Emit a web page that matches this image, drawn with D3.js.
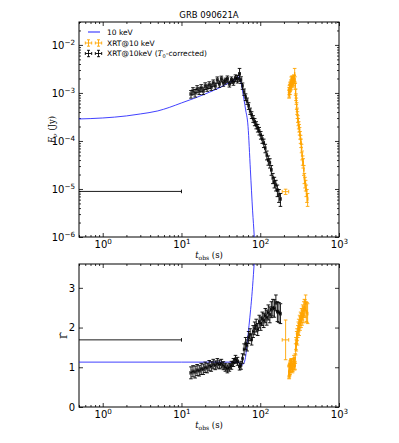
<!DOCTYPE html>
<html>
<head>
<meta charset="utf-8">
<script src="https://cdnjs.cloudflare.com/ajax/libs/d3/7.8.5/d3.min.js"></script>
<style>
  body { margin: 0; background: #fff; }
  text { font-family: "DejaVu Sans", sans-serif; }
  .serif { font-family: "DejaVu Serif", serif; }
</style>
</head>
<body>
<svg id="chart" width="399" height="443"></svg>
<script>
// XRT light curve at 10 keV, T0-corrected times (s)
const tCorr = [13.2, 14.0, 14.9, 15.8, 16.8, 17.8, 18.9, 20.0, 21.2, 22.5, 23.9, 25.3, 26.9, 28.5, 30.3, 32.1,
  34.0, 36.1, 38.3, 40.6, 43.1, 45.7, 48.5, 51.5, 54.6, 57.1, 59.6, 62.4, 65.2, 68.1, 71.2, 74.4, 77.8, 81.3,
  85.0, 88.9, 92.9, 97.1, 101.5, 106.1, 110.9, 115.9, 121.2, 126.6, 132.4, 138.4, 144.6, 151.2, 158.0, 165.2,
  172.7, 180.5];
const tHalf = [0.4, 0.4, 0.45, 0.45, 0.5, 0.5, 0.55, 0.55, 0.6, 0.65, 0.65, 0.7, 0.75, 0.8, 0.85, 0.9, 0.95,
  1.0, 1.1, 1.2, 1.2, 1.3, 1.4, 1.5, 1.5, 1.2, 1.3, 1.4, 1.4, 1.5, 1.6, 1.6, 1.7, 1.8, 1.9, 2.0, 2.1, 2.2, 2.3,
  2.4, 2.5, 2.6, 2.8, 3.0, 3.1, 3.3, 3.5, 3.6, 3.8, 4.0, 4.0, 4.2];
const flux = [9.5e-4, 1.10e-3, 1.0e-3, 1.21e-3, 1.10e-3, 1.27e-3, 1.10e-3, 1.40e-3, 1.27e-3, 1.47e-3, 1.33e-3,
  1.62e-3, 1.40e-3, 1.87e-3, 1.54e-3, 1.96e-3, 1.62e-3, 1.78e-3, 1.96e-3, 1.54e-3, 1.87e-3, 1.70e-3, 2.05e-3,
  1.96e-3, 2.49e-3, 1.87e-3, 1.40e-3, 1.05e-3, 8.25e-4, 6.8e-4, 5.4e-4, 4.2e-4, 3.5e-4, 2.9e-4, 2.5e-4, 2.15e-4,
  1.87e-4, 1.62e-4, 1.33e-4, 1.10e-4, 9.1e-5, 7.1e-5, 5.1e-5, 4.0e-5, 3.5e-5, 2.5e-5, 1.7e-5, 1.4e-5, 1.21e-5,
  9.5e-6, 7.5e-6, 6.2e-6];
const fluxRelErr = [0.18, 0.17, 0.18, 0.17, 0.16, 0.17, 0.16, 0.16, 0.15, 0.16, 0.15, 0.15, 0.15, 0.15, 0.15,
  0.14, 0.15, 0.14, 0.15, 0.14, 0.15, 0.15, 0.16, 0.18, 0.3, 0.16, 0.15, 0.15, 0.16, 0.15, 0.16, 0.15, 0.16, 0.16,
  0.17, 0.17, 0.18, 0.18, 0.18, 0.19, 0.2, 0.2, 0.21, 0.22, 0.22, 0.23, 0.24, 0.25, 0.25, 0.27, 0.3, 0.3];
const gamma = [0.86, 0.90, 0.88, 0.93, 0.91, 0.96, 0.95, 1.00, 0.98, 1.04, 1.02, 1.08, 1.05, 1.10, 1.07, 1.09,
  1.04, 1.00, 0.96, 1.00, 1.05, 1.12, 1.20, 1.15, 1.02, 1.05, 1.22, 1.45, 1.60, 1.55, 1.75, 1.82, 1.70, 1.90,
  1.98, 2.05, 1.95, 2.15, 2.10, 2.22, 2.18, 2.30, 2.25, 2.38, 2.32, 2.45, 2.50, 2.48, 2.62, 2.40, 2.38, 2.35];
const gammaErr = [0.15, 0.14, 0.15, 0.14, 0.13, 0.14, 0.13, 0.13, 0.12, 0.13, 0.12, 0.12, 0.11, 0.12, 0.11, 0.11,
  0.1, 0.1, 0.1, 0.1, 0.1, 0.1, 0.1, 0.1, 0.09, 0.1, 0.12, 0.14, 0.15, 0.14, 0.15, 0.15, 0.14, 0.15, 0.16, 0.16,
  0.15, 0.16, 0.17, 0.17, 0.18, 0.18, 0.19, 0.19, 0.2, 0.2, 0.21, 0.22, 0.2, 0.25, 0.25, 0.25];
const T0 = 219; // offset between observed and corrected time

// averaged early point (black) and its observed-time counterpart (orange)
const avgCorr = { t: 5, dt: 5, f: 8.9e-6, df: 0, g: 1.69, dg: 0 };
const avgObs = { t: 210, dt: 20, f: 8.8e-6, df: 1.1e-6, g: 1.69, dg: 0.5 };

// 10 keV model curve
const modelT = [0.5, 1, 2, 3, 5, 7, 10, 15, 20, 30, 40, 50, 53, 56, 60, 65, 70, 75, 80, 84, 88];
const modelFlux = [2.87e-4, 3.01e-4, 3.32e-4, 3.65e-4, 4.22e-4, 4.99e-4, 6.19e-4, 7.87e-4, 9.53e-4, 1.27e-3,
  1.62e-3, 2.0e-3, 2.15e-3, 1.87e-3, 1.05e-3, 4.6e-4, 2.0e-4, 2.5e-5, 3.5e-6, 1.0e-6, 2e-7];
const modelGT = [0.5, 10, 30, 50, 55, 59, 62, 65, 69, 72, 75.5, 79, 83, 86];
const modelGamma = [1.13, 1.13, 1.13, 1.13, 1.11, 1.06, 1.10, 1.25, 1.70, 2.05, 2.45, 2.9, 3.5, 4.0];

// ticks
const xTicks = [1, 10, 100, 1000];
const fluxTicks = [1e-6, 1e-5, 1e-4, 1e-3, 1e-2];
const gammaTicks = [0, 1, 2, 3];

var svg = d3.select("#chart");
var L = 79, R = 339;
var p1 = { top: 22, bottom: 237 }, p2 = { top: 264, bottom: 407 };

var x = d3.scaleLog().domain([0.5, 1000]).range([L, R]);
var yF = d3.scaleLog().domain([1e-6, 0.03]).range([p1.bottom, p1.top]);
var yG = d3.scaleLinear().domain([0, 3.6]).range([p2.bottom, p2.top]);

var xMinor = [];
[0.1, 1, 10, 100].forEach(function(b) {
  for (var k = 2; k <= 9; k++) if (b * k >= 0.5 && b * k <= 1000) xMinor.push(b * k);
});
var fMinor = [];
[1e-6, 1e-5, 1e-4, 1e-3, 1e-2].forEach(function(b) {
  for (var k = 2; k <= 9; k++) if (b * k <= 0.03) fMinor.push(b * k);
});

var defs = svg.append("defs");
defs.append("clipPath").attr("id", "clip1").append("rect")
  .attr("x", L).attr("y", p1.top).attr("width", R - L).attr("height", p1.bottom - p1.top);
defs.append("clipPath").attr("id", "clip2").append("rect")
  .attr("x", L).attr("y", p2.top).attr("width", R - L).attr("height", p2.bottom - p2.top);

function sup(sel) {
  sel.text(null);
  sel.append("tspan").text("10");
  sel.append("tspan").attr("dy", "-0.55em").attr("font-size", "0.72em")
    .text(function(d) { var e = Math.round(Math.log10(d)); return e < 0 ? "\u2212" + (-e) : e; });
}

function axes(ys, p, yTicks, yMinor, logY) {
  var g = svg.append("g").attr("font-size", 7);
  var bottom = g.append("g").attr("transform", "translate(0," + p.bottom + ")")
    .call(d3.axisBottom(x).tickValues(xTicks).tickSize(-4).tickPadding(4));
  bottom.selectAll(".tick text").call(sup);
  g.append("g").attr("transform", "translate(0," + p.bottom + ")")
    .call(d3.axisBottom(x).tickValues(xMinor).tickSize(-2).tickFormat(""));
  g.append("g").attr("transform", "translate(0," + p.top + ")")
    .call(d3.axisTop(x).tickValues(xTicks).tickSize(-4).tickFormat(""));
  g.append("g").attr("transform", "translate(0," + p.top + ")")
    .call(d3.axisTop(x).tickValues(xMinor).tickSize(-2).tickFormat(""));

  var yAxis = d3.axisLeft(ys).tickValues(yTicks).tickSize(-4).tickPadding(4);
  if (!logY) yAxis.tickFormat(d3.format("d"));
  var left = g.append("g").attr("transform", "translate(" + L + ",0)").call(yAxis);
  if (logY) left.selectAll(".tick text").call(sup);
  g.append("g").attr("transform", "translate(" + R + ",0)")
    .call(d3.axisRight(ys).tickValues(yTicks).tickSize(-4).tickFormat(""));
  if (yMinor.length) {
    g.append("g").attr("transform", "translate(" + L + ",0)")
      .call(d3.axisLeft(ys).tickValues(yMinor).tickSize(-2).tickFormat(""));
    g.append("g").attr("transform", "translate(" + R + ",0)")
      .call(d3.axisRight(ys).tickValues(yMinor).tickSize(-2).tickFormat(""));
  }
  g.selectAll(".domain").remove();
  g.selectAll(".tick line").attr("stroke", "#000").attr("stroke-width", 0.8);
  g.selectAll(".tick text").attr("fill", "#000").attr("font-family", "DejaVu Sans");

  svg.append("rect").attr("x", L).attr("y", p.top).attr("width", R - L).attr("height", p.bottom - p.top)
    .attr("fill", "none").attr("stroke", "#000").attr("stroke-width", 1);
}

function errorbars(g, data, ys, color) {
  var cap = 1.8;
  var eb = g.selectAll(null).data(data).enter().append("g")
    .attr("stroke", color).attr("stroke-width", 0.9);
  eb.append("line")
    .attr("x1", function(d) { return x(d.xlo); }).attr("x2", function(d) { return x(d.xhi); })
    .attr("y1", function(d) { return ys(d.y); }).attr("y2", function(d) { return ys(d.y); });
  var withY = eb.filter(function(d) { return d.yhi > d.ylo; });
  withY.append("line")
    .attr("x1", function(d) { return x(d.x); }).attr("x2", function(d) { return x(d.x); })
    .attr("y1", function(d) { return ys(d.ylo); }).attr("y2", function(d) { return ys(d.yhi); });
  ["ylo", "yhi"].forEach(function(k) {
    withY.append("line")
      .attr("x1", function(d) { return x(d.x) - cap; }).attr("x2", function(d) { return x(d.x) + cap; })
      .attr("y1", function(d) { return ys(d[k]); }).attr("y2", function(d) { return ys(d[k]); });
  });
  ["xlo", "xhi"].forEach(function(k) {
    eb.append("line")
      .attr("x1", function(d) { return x(d[k]); }).attr("x2", function(d) { return x(d[k]); })
      .attr("y1", function(d) { return ys(d.y) - cap; }).attr("y2", function(d) { return ys(d.y) + cap; });
  });
}

function pts(offset, yv, lo, hi, avg, avgY, avgErr) {
  var out = tCorr.map(function(t, i) {
    return { x: t + offset, xlo: t + offset - tHalf[i], xhi: t + offset + tHalf[i],
      y: yv[i], ylo: lo(i), yhi: hi(i) };
  });
  out.push({ x: avg.t, xlo: Math.max(avg.t - avg.dt, 0.05), xhi: avg.t + avg.dt,
    y: avg[avgY], ylo: avg[avgY] - avg[avgErr], yhi: avg[avgY] + avg[avgErr] });
  return out;
}

var line = d3.line().curve(d3.curveMonotoneX);

// ---- top panel: flux ----
axes(yF, p1, fluxTicks, fMinor, true);
var g1 = svg.append("g").attr("clip-path", "url(#clip1)");
g1.append("path")
  .attr("d", line(modelT.map(function(t, i) { return [x(t), yF(modelFlux[i])]; })))
  .attr("fill", "none").attr("stroke", "#2020ff").attr("stroke-opacity", 0.85).attr("stroke-width", 1);
errorbars(g1, pts(T0, flux,
  function(i) { return flux[i] * (1 - fluxRelErr[i]); },
  function(i) { return flux[i] * (1 + fluxRelErr[i]); }, avgObs, "f", "df"), yF, "orange");
errorbars(g1, pts(0, flux,
  function(i) { return flux[i] * (1 - fluxRelErr[i]); },
  function(i) { return flux[i] * (1 + fluxRelErr[i]); }, avgCorr, "f", "df"), yF, "#000");

// ---- bottom panel: photon index ----
axes(yG, p2, gammaTicks, [], false);
var g2 = svg.append("g").attr("clip-path", "url(#clip2)");
g2.append("path")
  .attr("d", line(modelGT.map(function(t, i) { return [x(t), yG(modelGamma[i])]; })))
  .attr("fill", "none").attr("stroke", "#2020ff").attr("stroke-opacity", 0.85).attr("stroke-width", 1);
errorbars(g2, pts(T0, gamma,
  function(i) { return gamma[i] - gammaErr[i]; },
  function(i) { return gamma[i] + gammaErr[i]; }, avgObs, "g", "dg"), yG, "orange");
errorbars(g2, pts(0, gamma,
  function(i) { return gamma[i] - gammaErr[i]; },
  function(i) { return gamma[i] + gammaErr[i]; }, avgCorr, "g", "dg"), yG, "#000");

// ---- labels ----
svg.append("text").attr("x", (L + R) / 2).attr("y", 18).attr("text-anchor", "middle")
  .attr("font-size", 8.5).text("GRB 090621A");

[p1.bottom + 21, p2.bottom + 21].forEach(function(yy) {
  var t = svg.append("text").attr("class", "serif").attr("x", (L + R) / 2).attr("y", yy)
    .attr("text-anchor", "middle").attr("font-size", 8.5);
  t.append("tspan").attr("font-style", "italic").text("t");
  t.append("tspan").attr("font-size", 6).attr("dy", 2).text("obs");
  t.append("tspan").attr("dy", -2).text(" (s)");
});

var fl = svg.append("text").attr("class", "serif").attr("font-size", 8.5).attr("text-anchor", "middle")
  .attr("transform", "translate(55," + (p1.top + p1.bottom) / 2 + ") rotate(-90)");
fl.append("tspan").attr("font-style", "italic").text("F");
fl.append("tspan").attr("font-style", "italic").attr("font-size", 6).attr("dy", 2).text("\u03bd");
fl.append("tspan").attr("dy", -2).text(" (Jy)");

svg.append("text").attr("class", "serif").attr("font-size", 10).attr("text-anchor", "middle")
  .attr("transform", "translate(67," + (p2.top + p2.bottom) / 2 + ") rotate(-90)")
  .text("\u0393\u0302");

// ---- legend ----
var lg = svg.append("g").attr("font-size", 7.5);
lg.append("line").attr("x1", 88).attr("x2", 100).attr("y1", 32).attr("y2", 32)
  .attr("stroke", "#2020ff").attr("stroke-opacity", 0.85).attr("stroke-width", 1.2);
function legendBar(cx, cy, color) {
  var s = 3.2, c = 1.5;
  var gg = lg.append("g").attr("stroke", color).attr("stroke-width", 0.9);
  gg.append("line").attr("x1", cx - s).attr("x2", cx + s).attr("y1", cy).attr("y2", cy);
  gg.append("line").attr("x1", cx).attr("x2", cx).attr("y1", cy - s).attr("y2", cy + s);
  [-s, s].forEach(function(o) {
    gg.append("line").attr("x1", cx + o).attr("x2", cx + o).attr("y1", cy - c).attr("y2", cy + c);
    gg.append("line").attr("x1", cx - c).attr("x2", cx + c).attr("y1", cy + o).attr("y2", cy + o);
  });
}
legendBar(88.5, 43, "orange"); legendBar(98.5, 43, "orange");
legendBar(88.5, 53.5, "#000"); legendBar(98.5, 53.5, "#000");
lg.append("text").attr("x", 107).attr("y", 34.5).text("10 keV");
lg.append("text").attr("x", 107).attr("y", 45.5).text("XRT@10 keV");
var l3 = lg.append("text").attr("x", 107).attr("y", 56);
l3.append("tspan").text("XRT@10keV (");
l3.append("tspan").attr("font-style", "italic").attr("font-family", "DejaVu Serif").text("T");
l3.append("tspan").attr("font-size", 5).attr("dy", 1.5).text("0");
l3.append("tspan").attr("dy", -1.5).text("-corrected)");
</script>
</body>
</html>
